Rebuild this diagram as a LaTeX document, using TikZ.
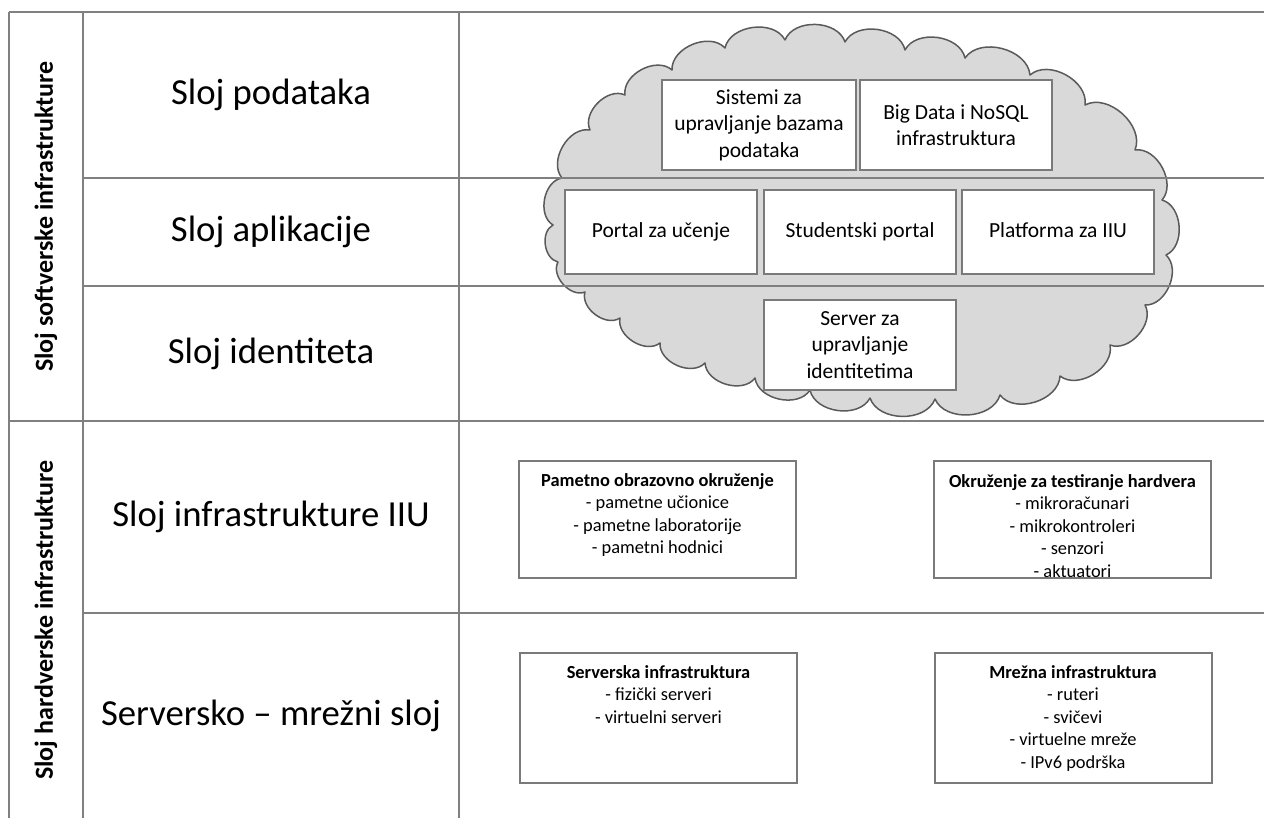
\documentclass[tikz,border=0pt]{standalone}
\usepackage{fontspec}
\setmainfont{Carlito}
\definecolor{gridline}{HTML}{808080}
\definecolor{boxline}{HTML}{7A7A7A}
\definecolor{cloudfill}{HTML}{D9D9D9}
\definecolor{cloudline}{HTML}{5A5A5A}
\tikzset{
  grid/.style={draw=gridline, line width=2.2pt},
  layer/.style={font=\fontsize{36.7}{44}\selectfont, inner sep=0pt},
  side/.style={font=\bfseries\fontsize{26}{31}\selectfont, rotate=90, inner sep=0pt},
  cbox/.style={draw=boxline, fill=white, line width=2pt, minimum width=192pt, minimum height=88pt, align=center, inner sep=2pt, font=\fontsize{21.5}{26.5}\selectfont},
  hbox/.style={draw=boxline, fill=white, line width=2pt, minimum width=277pt, inner sep=0pt},
  htext/.style={anchor=north, align=center, inner sep=0pt, font=\fontsize{18.4}{22.6}\selectfont},
  cloudshape/.style={draw=cloudline, fill=cloudfill, line width=1.5pt, line join=round},
  puff/.style={bend left=70},
}
\begin{document}
\begin{tikzpicture}[x=1pt,y=-1pt]
\useasboundingbox (0,0) rectangle (1264,818);
% cloud
\draw[cloudshape] (553,225) to[puff] (562,178) to[puff] (590,130) to[puff] (625,95)
  to[puff] (672,70) to[puff] (725,48) to[puff] (785,40) to[puff] (845,42)
  to[puff] (905,50) to[puff] (965,58) to[puff] (1030,75) to[puff] (1085,105)
  to[puff] (1135,150) to[puff] (1162,200) to[puff] (1166,255) to[puff] (1145,305)
  to[puff] (1110,345) to[puff] (1060,376) to[puff] (1000,395) to[puff] (935,399)
  to[puff] (870,398) to[puff] (810,390) to[puff] (755,378) to[puff] (705,363)
  to[puff] (660,343) to[puff] (620,318) to[puff] (585,292) to[puff] (558,262)
  to[puff] (553,225) -- cycle;
% table lines
\draw[grid] (9,12) -- (1264,12);
\draw[grid] (83,178) -- (1264,178);
\draw[grid] (83,286) -- (1264,286);
\draw[grid] (9,421) -- (1264,421);
\draw[grid] (83,613) -- (1264,613);
\draw[grid] (9,12) -- (9,818);
\draw[grid] (83,12) -- (83,818);
\draw[grid] (459,12) -- (459,818);
% side labels
\node[side] (sw) at (46,216.5) {Sloj softverske infrastrukture};
\node[side] (hw) at (46,620) {Sloj hardverske infrastrukture};
% layer labels
\node[layer] (l1) at (271,95) {Sloj podataka};
\node[layer] (l2) at (271,232) {Sloj aplikacije};
\node[layer] (l3) at (271,354) {Sloj identiteta};
\node[layer] (l4) at (271,517) {Sloj infrastrukture IIU};
\node[layer] (l5) at (271,716) {Serversko -- mrežni sloj};
% cloud boxes
\node[cbox, minimum height=90pt, minimum width=194pt] (dbms) at (759,125) {Sistemi za\\upravljanje bazama\\podataka};
\node[cbox, minimum height=90pt] (big) at (956,125) {Big Data i NoSQL\\infrastruktura};
\node[cbox, minimum height=84pt] (portal) at (661,232) {Portal za učenje};
\node[cbox, minimum height=84pt] (stud) at (860,232) {Studentski portal};
\node[cbox, minimum height=84pt] (plat) at (1058,232) {Platforma za IIU\vphantom{j}};
\node[cbox, minimum height=90pt] (idsrv) at (860,345) {Server za\\upravljanje\\identitetima};
% hardware boxes
\node[hbox, minimum height=117pt] (smart) at (657.5,519.5) {};
\node[htext] (smartt) at ([yshift=-13pt]smart.north) {\textbf{Pametno obrazovno okruženje}\\- pametne učionice\\- pametne laboratorije\\- pametni hodnici};
\node[hbox, minimum height=117pt] (test) at (1072.5,519.5) {};
\node[htext] (testt) at ([yshift=-14pt]test.north) {\textbf{Okruženje za testiranje hardvera}\\- mikroračunari\\- mikrokontroleri\\- senzori\\- aktuatori};
\node[hbox, minimum height=130pt] (serv) at (658.5,718) {};
\node[htext] (servt) at ([yshift=-13pt]serv.north) {\textbf{Serverska infrastruktura}\\- fizički serveri\\- virtuelni serveri};
\node[hbox, minimum height=130pt] (net) at (1073,718) {};
\node[htext] (nett) at ([yshift=-13pt]net.north) {\textbf{Mrežna infrastruktura}\\- ruteri\\- svičevi\\- virtuelne mreže\\- IPv6 podrška};
\end{tikzpicture}
\end{document}
